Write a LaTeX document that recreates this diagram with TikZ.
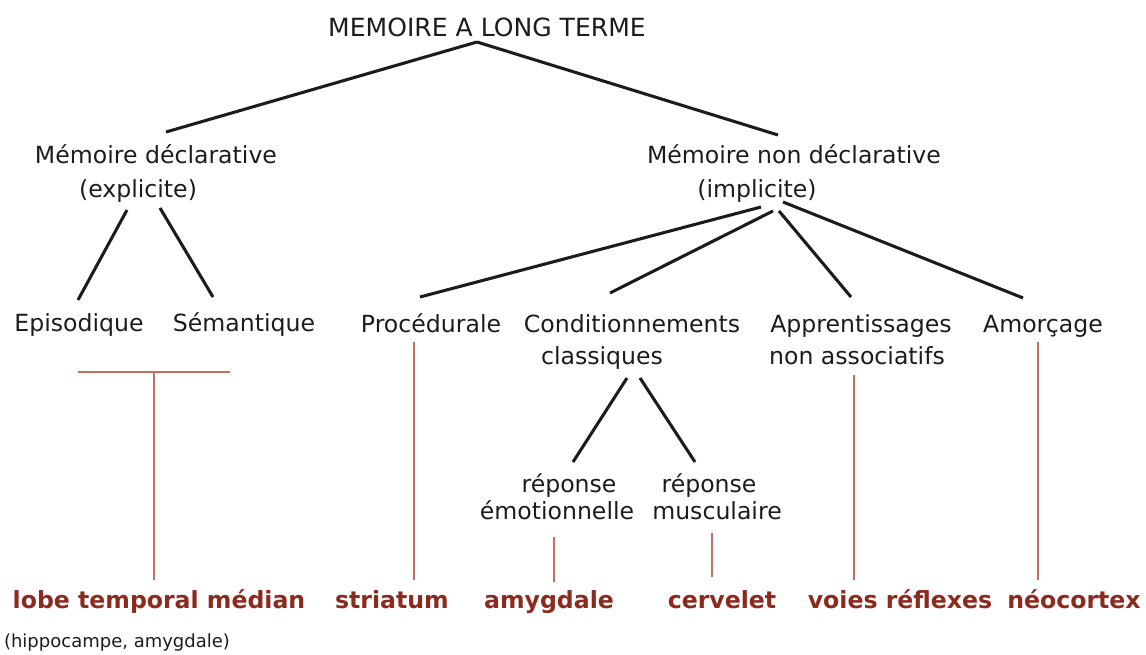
\documentclass[tikz,border=0pt]{standalone}
\usepackage{fontspec}
\setmainfont{DejaVu Sans}
\usetikzlibrary{calc}
\definecolor{ink}{RGB}{28,28,28}
\definecolor{brainred}{RGB}{140,42,30}
\definecolor{linkred}{RGB}{196,110,100}
\begin{document}
\begin{tikzpicture}[x=0.75pt,y=0.75pt,yscale=-1,xscale=1,
  txt/.style={anchor=base,inner sep=0pt,text=ink,font=\fontsize{17.7}{21}\selectfont},
  brain/.style={anchor=base,inner sep=0pt,text=brainred,font=\fontsize{17.7}{21}\selectfont\bfseries},
  branch/.style={draw=ink,line width=2.3pt},
  link/.style={draw=linkred,line width=1.2pt}]
\useasboundingbox (0,0) rectangle (1146,655);

% Text Node
\draw (487,37) node [txt,font=\fontsize{18.8}{22}\selectfont] (title) {MEMOIRE A LONG TERME};
% Text Node
\draw (156,164) node [txt] (decl) {Mémoire déclarative};
% Text Node
\draw (138,198) node [txt] (expl) {(explicite)};
% Text Node
\draw (794,164) node [txt] (ndecl) {Mémoire non déclarative};
% Text Node
\draw (757,198) node [txt] (impl) {(implicite)};
% Text Node
\draw (79,332) node [txt] (epi) {Episodique};
% Text Node
\draw (244,332) node [txt] (sem) {Sémantique};
% Text Node
\draw (431,333) node [txt] (proc) {Procédurale};
% Text Node
\draw (632,333) node [txt] (cond) {Conditionnements};
% Text Node
\draw (602,365) node [txt] (condb) {classiques};
% Text Node
\draw (861,333) node [txt] (appr) {Apprentissages};
% Text Node
\draw (857,365) node [txt] (apprb) {non associatifs};
% Text Node
\draw (1043,333) node [txt] (amor) {Amorçage};
% Text Node
\draw (569,493) node [txt] (repa) {réponse};
% Text Node
\draw (557,520) node [txt] (emo) {émotionnelle};
% Text Node
\draw (709,493) node [txt] (repb) {réponse};
% Text Node
\draw (717,520) node [txt] (musc) {musculaire};
% Text Node
\draw (159,608) node [brain] (lobe) {lobe temporal médian};
% Text Node
\draw (117,647) node [txt,font=\fontsize{13.5}{16}\selectfont] (hipp) {(hippocampe, amygdale)};
% Text Node
\draw (392,608) node [brain] (stri) {striatum};
% Text Node
\draw (549,608) node [brain] (amyg) {amygdale};
% Text Node
\draw (722,608) node [brain] (cerv) {cervelet};
% Text Node
\draw (900,608) node [brain] (voie) {voies réflexes};
% Text Node
\draw (1074,608) node [brain] (neo) {néocortex};

%Straight Lines
\draw [branch] ($(title.base)+(-10,5)$) -- ($(decl.base)+(10,-32)$);
\draw [branch] ($(title.base)+(-10,5)$) -- ($(ndecl.base)+(-16,-29)$);
%Straight Lines
\draw [branch] ($(expl.base)+(-11,12)$) -- ($(epi.base)+(-1,-32)$);
\draw [branch] ($(expl.base)+(22,10)$) -- ($(sem.base)+(-31,-35)$);
%Straight Lines
\draw [branch] ($(impl.base)+(4,9)$) -- ($(proc.base)+(-11,-36)$);
\draw [branch] ($(impl.base)+(16,13)$) -- ($(cond.base)+(-22,-40)$);
\draw [branch] ($(impl.base)+(22,13)$) -- ($(appr.base)+(-10,-36)$);
\draw [branch] ($(impl.base)+(26,4)$) -- ($(amor.base)+(-20,-35)$);
%Straight Lines
\draw [branch] ($(condb.base)+(25,13)$) -- ($(repa.base)+(4,-31)$);
\draw [branch] ($(condb.base)+(38,13)$) -- ($(repb.base)+(-14,-31)$);

%Straight Lines
\draw [link] ($(epi.base)+(-1,40)$) -- ($(sem.base)+(-14,40)$);
\draw [link] ($(lobe.base)+(-5,-236)$) -- ($(lobe.base)+(-5,-28)$);
\draw [link] ($(proc.base)+(-17,9)$) -- ($(stri.base)+(22,-28)$);
\draw [link] ($(emo.base)+(-3,17)$) -- ($(amyg.base)+(5,-26)$);
\draw [link] ($(musc.base)+(-5,13)$) -- ($(cerv.base)+(-10,-31)$);
\draw [link] ($(apprb.base)+(-3,10)$) -- ($(voie.base)+(-46,-28)$);
\draw [link] ($(amor.base)+(-5,9)$) -- ($(neo.base)+(-36,-28)$);
\end{tikzpicture}
\end{document}
